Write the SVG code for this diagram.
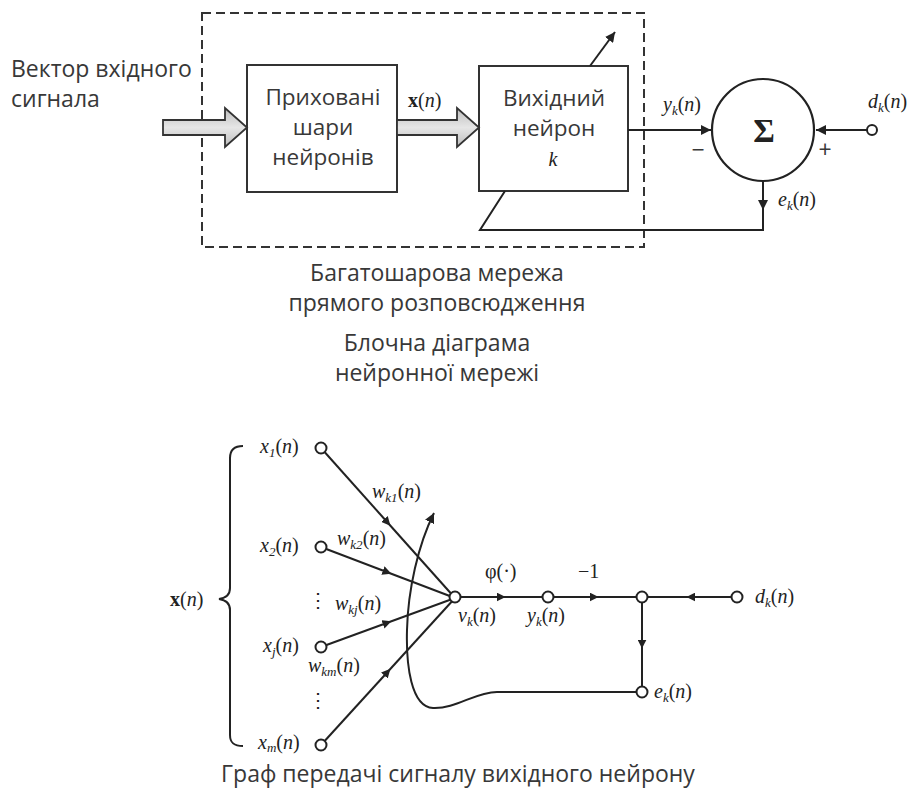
<svg xmlns="http://www.w3.org/2000/svg" width="915" height="805" viewBox="0 0 915 805">
<defs>
<style>
.sans{font-family:"Open Sans","DejaVu Sans",sans-serif;font-size:23px;fill:#383838}
.bx{font-size:22.5px}
.math{font-family:"Liberation Serif","DejaVu Serif",serif;font-size:20px;font-style:italic;fill:#222}
.up{font-style:normal}
.b{font-weight:bold;font-style:normal}
.box{fill:#fff;stroke:#333;stroke-width:2}
.ln{fill:none;stroke:#222;stroke-width:2}
.nd{fill:#fff;stroke:#222;stroke-width:2}
.fat{fill:url(#g);stroke:#333;stroke-width:1.8;stroke-linejoin:miter}
</style>
<linearGradient id="g" x1="0" y1="0" x2="0" y2="1">
<stop offset="0" stop-color="#bdbdbd"/><stop offset="0.5" stop-color="#e6e6e6"/><stop offset="1" stop-color="#bdbdbd"/>
</linearGradient>
<marker id="ah" viewBox="0 0 10 10" refX="10" refY="5" markerWidth="5" markerHeight="5" orient="auto" markerUnits="strokeWidth">
<path d="M0,0 L10,5 L0,10 z" fill="#222"/>
</marker>
<marker id="am" viewBox="0 0 10 10" refX="6" refY="5" markerWidth="4.5" markerHeight="4.5" orient="auto" markerUnits="strokeWidth">
<path d="M0,0 L10,5 L0,10 z" fill="#222"/>
</marker>
</defs>
<rect width="915" height="805" fill="#fff"/>

<!-- top block diagram -->
<g id="mlp-frame">
<rect x="202" y="13" width="442" height="234" fill="none" stroke="#333" stroke-width="2" stroke-dasharray="9 5"/>
</g>
<g id="input-label">
<text class="sans" x="11" y="77">Вектор вхідного</text>
<text class="sans" x="11" y="107">сигнала</text>
</g>
<g id="hidden-layers">
<rect class="box" x="247" y="65" width="150" height="127"/>
<text class="sans bx" x="323" y="105" text-anchor="middle">Приховані</text>
<text class="sans bx" x="323" y="135" text-anchor="middle">шари</text>
<text class="sans bx" x="323" y="165" text-anchor="middle">нейронів</text>
</g>
<g id="output-neuron">
<rect class="box" x="479" y="66" width="149" height="125"/>
<text class="sans bx" x="554" y="106" text-anchor="middle">Вихідний</text>
<text class="sans bx" x="554" y="136" text-anchor="middle">нейрон</text>
<text class="math" x="553" y="166" text-anchor="middle">k</text>
</g>
<g id="sum">
<circle cx="763" cy="130" r="51" fill="#fff" stroke="#222" stroke-width="2.2"/>
<text x="764" y="142" text-anchor="middle" font-family="Liberation Serif,serif" font-size="33" font-weight="bold" fill="#222">Σ</text>
</g>
<g id="desired-in">
<circle class="nd" cx="872" cy="130" r="5"/>
</g>

<g id="top-connectors">
<polygon class="fat" points="163,120 225,120 225,108 247,127.5 225,147 225,135 163,135"/>
<polygon class="fat" points="397,120 457,120 457,108 479,127.5 457,147 457,135 397,135"/>
<line class="ln" x1="590" y1="66" x2="615" y2="32" marker-end="url(#ah)"/>
<polyline class="ln" points="505,191 480,230 763,230 763,182"/>
<path d="M758,200 L768,200 L763,210 z" fill="#222"/>
<line class="ln" x1="628" y1="130" x2="711" y2="130" marker-end="url(#ah)"/>
<line class="ln" x1="867" y1="130" x2="816" y2="130" marker-end="url(#ah)"/>
</g>
<g id="top-labels">
<text class="math" x="408" y="107"><tspan class="b">x</tspan><tspan class="up">(</tspan>n<tspan class="up">)</tspan></text>
<text class="math" x="663" y="111">y<tspan font-size="13" dy="4">k</tspan><tspan class="up" dy="-4">(</tspan>n<tspan class="up">)</tspan></text>
<text class="math" x="868" y="108">d<tspan font-size="13" dy="4">k</tspan><tspan class="up" dy="-4">(</tspan>n<tspan class="up">)</tspan></text>
<text class="math" x="778" y="206">e<tspan font-size="13" dy="4">k</tspan><tspan class="up" dy="-4">(</tspan>n<tspan class="up">)</tspan></text>
<text class="sans" x="698" y="158" text-anchor="middle" font-size="20">−</text>
<text class="sans" x="825" y="158" text-anchor="middle" font-size="18">+</text>
</g>

<g id="captions">
<text class="sans" x="437" y="281" text-anchor="middle">Багатошарова мережа</text>
<text class="sans" x="437" y="311" text-anchor="middle">прямого розповсюдження</text>
<text class="sans" x="437" y="351" text-anchor="middle">Блочна діаграма</text>
<text class="sans" x="437" y="381" text-anchor="middle">нейронної мережі</text>
<text class="sans" x="458" y="782" text-anchor="middle" font-size="20.3">Граф передачі сигналу вихідного нейрону</text>
</g>

<!-- signal-flow graph -->
<g id="graph-connectors">
<path class="ln" d="M321,448 L388,523 L455,598" marker-mid="url(#am)"/>
<path class="ln" d="M321,547 L388,572.5 L455,598" marker-mid="url(#am)"/>
<path class="ln" d="M321,647 L388,622.5 L455,598" marker-mid="url(#am)"/>
<path class="ln" d="M321,745 L388,671.5 L455,598" marker-mid="url(#am)"/>
<path class="ln" d="M455,597 L502,597 L548,597" marker-mid="url(#am)"/>
<path class="ln" d="M548,597 L595,597 L642,597" marker-mid="url(#am)"/>
<path class="ln" d="M737,597 L690,597 L642,597" marker-mid="url(#am)"/>
<path class="ln" d="M642,597 L642,645 L642,692" marker-mid="url(#am)"/>
<path class="ln" d="M642,692 H497 C475,692 456,709 433,708 C411,707 406,665 407,630 C408,590 418,545 434,513" marker-end="url(#ah)"/>
<path class="ln" d="M243,446 C234,446 230,450 230,458 L230,588 C230,595 226,598 219,599 C226,600 230,603 230,610 L230,735 C230,743 234,746 243,746"/>
</g>
<g id="node-x1"><circle class="nd" cx="321" cy="448" r="5.5"/><text class="math" x="260" y="453">x<tspan font-size="13" dy="4">1</tspan><tspan class="up" dy="-4">(</tspan>n<tspan class="up">)</tspan></text></g>
<g id="node-x2"><circle class="nd" cx="321" cy="547" r="5.5"/><text class="math" x="260" y="552">x<tspan font-size="13" dy="4">2</tspan><tspan class="up" dy="-4">(</tspan>n<tspan class="up">)</tspan></text></g>
<g id="node-xj"><circle class="nd" cx="321" cy="647" r="5.5"/><text class="math" x="263" y="652">x<tspan font-size="13" dy="4">j</tspan><tspan class="up" dy="-4">(</tspan>n<tspan class="up">)</tspan></text></g>
<g id="node-xm"><circle class="nd" cx="321" cy="745" r="5.5"/><text class="math" x="258" y="749">x<tspan font-size="13" dy="3">m</tspan><tspan class="up" dy="-3">(</tspan>n<tspan class="up">)</tspan></text></g>
<g id="node-vk"><circle class="nd" cx="455" cy="597" r="5.5"/><text class="math" x="458" y="622">v<tspan font-size="13" dy="4">k</tspan><tspan class="up" dy="-4">(</tspan>n<tspan class="up">)</tspan></text></g>
<g id="node-yk"><circle class="nd" cx="548" cy="597" r="5.5"/><text class="math" x="527" y="622">y<tspan font-size="13" dy="4">k</tspan><tspan class="up" dy="-4">(</tspan>n<tspan class="up">)</tspan></text></g>
<g id="node-sum"><circle class="nd" cx="642" cy="597" r="5.5"/></g>
<g id="node-dk"><circle class="nd" cx="737" cy="597" r="5.5"/><text class="math" x="755" y="603">d<tspan font-size="13" dy="4">k</tspan><tspan class="up" dy="-4">(</tspan>n<tspan class="up">)</tspan></text></g>
<g id="node-ek"><circle class="nd" cx="642" cy="692" r="5.5"/><text class="math" x="654" y="698">e<tspan font-size="13" dy="4">k</tspan><tspan class="up" dy="-4">(</tspan>n<tspan class="up">)</tspan></text></g>
<g id="graph-labels">
<text class="math" x="170" y="606"><tspan class="b">x</tspan><tspan class="up">(</tspan>n<tspan class="up">)</tspan></text>
<text class="math" x="372" y="498">w<tspan font-size="13" dy="4">k1</tspan><tspan class="up" dy="-4">(</tspan>n<tspan class="up">)</tspan></text>
<text class="math" x="337" y="545">w<tspan font-size="13" dy="4">k2</tspan><tspan class="up" dy="-4">(</tspan>n<tspan class="up">)</tspan></text>
<text class="math" x="335" y="610">w<tspan font-size="13" dy="4">kj</tspan><tspan class="up" dy="-4">(</tspan>n<tspan class="up">)</tspan></text>
<text class="math" x="308" y="672">w<tspan font-size="13" dy="4">km</tspan><tspan class="up" dy="-4">(</tspan>n<tspan class="up">)</tspan></text>
<text class="math up" x="485" y="578">φ(·)</text>
<text class="math up" x="578" y="578">−1</text>
<text class="math up" x="318" y="607" font-size="12" text-anchor="middle">⋮</text>
<text class="math up" x="318" y="707" font-size="12" text-anchor="middle">⋮</text>
</g>
</svg>
